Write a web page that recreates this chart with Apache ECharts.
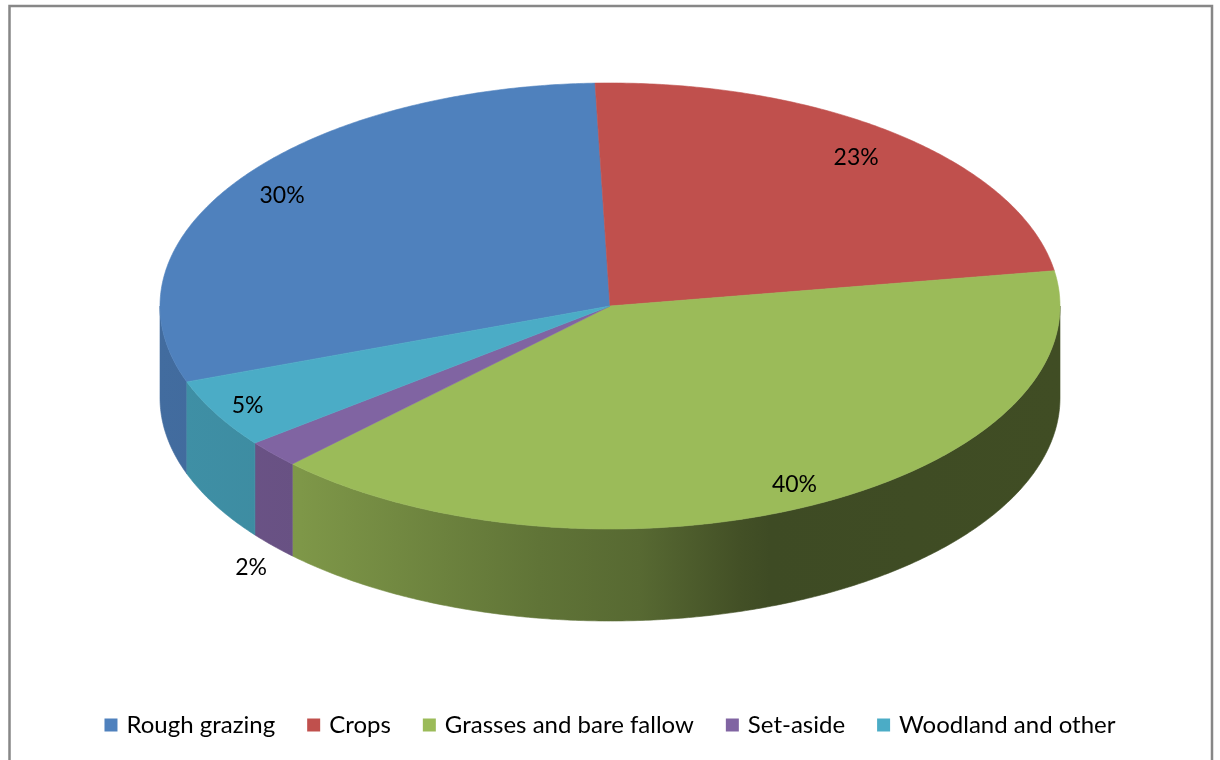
<!DOCTYPE html>
<html><head><meta charset="utf-8">
<script src="https://cdn.jsdelivr.net/npm/echarts@6/dist/echarts.min.js"></script>
<style>html,body{margin:0;padding:0;background:#fff}#c{width:1220px;height:760px}</style>
</head><body><div id="c"></div>
<script>
// ---- data ----
const categories = ['Rough grazing', 'Crops', 'Grasses and bare fallow', 'Set-aside', 'Woodland and other'];
const values = [30, 23, 40, 2, 5];

// ---- styling / layout ----
const colors = ['#4f81bd', '#c0504d', '#9bbb59', '#8064a2', '#4bacc6'];
const labelRadius = [0.88, 0.86, 0.90, 1.065, 0.92];
const labelOutside = [false, false, false, true, false];
const START = 250.1;          // first slice angle (deg clockwise from 12 o'clock)
const CX = 610, CY = 306, RX = 450, RY = 223, DEPTH = 92;
const FONT = 'Lato';

function shadeHex(hex, f) {
  const n = parseInt(hex.slice(1), 16);
  const r = Math.round(((n >> 16) & 255) * f), g = Math.round(((n >> 8) & 255) * f), b = Math.round((n & 255) * f);
  return 'rgb(' + r + ',' + g + ',' + b + ')';
}
const shadeStops = [[0, 0.84], [0.156, 0.81], [0.422, 0.62], [0.533, 0.56], [0.644, 0.43], [0.678, 0.40], [1, 0.41]];
function wallFill(hex) {
  return new echarts.graphic.LinearGradient(CX - RX, 0, CX + RX, 0,
    shadeStops.map(s => ({ offset: s[0], color: shadeHex(hex, s[1]) })), true);
}
function pt(deg, k, dy) {
  const r = deg * Math.PI / 180;
  return [CX + RX * k * Math.sin(r), CY - RY * k * Math.cos(r) + (dy || 0)];
}
function arc(a, b, dy) {
  const n = Math.max(2, Math.ceil((b - a) / 0.5));
  const out = [];
  for (let i = 0; i <= n; i++) out.push(pt(a + (b - a) * i / n, 1, dy));
  return out;
}

function makeRender(idx) {
  return function (params, api) {
    const total = values.reduce((s, v) => s + v, 0);
    let before = 0;
    for (let i = 0; i < idx; i++) before += values[i];
    const v = api.value(0);
    const a0 = START + before / total * 360;
    const a1 = a0 + v / total * 360;
    const col = colors[idx];
    const children = [];
    // visible outer wall (front half: 90..270 deg)
    [[90, 270], [450, 630]].forEach(function (rng) {
      const s = Math.max(a0, rng[0]), e = Math.min(a1, rng[1]);
      if (e > s) {
        const pts = arc(s, e, 0).concat(arc(s, e, DEPTH).reverse());
        children.push({ type: 'polygon', shape: { points: pts }, z2: 1,
          style: { fill: wallFill(col), stroke: wallFill(col), lineWidth: 0.6 } });
      }
    });
    // top face
    const top = [[CX, CY]].concat(arc(a0, a1, 0));
    children.push({ type: 'polygon', shape: { points: top }, z2: 5,
      style: { fill: col, stroke: col, lineWidth: 0.6 } });
    // label
    const mid = (a0 + a1) / 2;
    let lp = pt(mid, labelRadius[idx], 0);
    if (labelOutside[idx]) lp = [lp[0], lp[1] + DEPTH + 12];
    children.push({ type: 'text', x: lp[0], y: lp[1], z2: 20,
      style: { text: Math.round(v / total * 100) + '%', fill: '#000', font: '23px ' + FONT,
        align: 'center', verticalAlign: 'middle' } });
    return { type: 'group', children: children };
  };
}

const chart = echarts.init(document.getElementById('c'), null, { renderer: 'canvas' });
chart.setOption({
  animation: false,
  backgroundColor: '#fff',
  graphic: [{ type: 'rect', shape: { x: 9.5, y: 6, width: 1202.5, height: 800 },
    style: { fill: 'none', stroke: '#878787', lineWidth: 2.5 }, silent: true }],
  legend: {
    data: categories, top: 708, left: 'center', icon: 'rect',
    itemWidth: 13, itemHeight: 13, itemGap: 32,
    textStyle: { fontFamily: FONT, fontSize: 24, color: '#000', padding: [0, 0, 0, 4] }
  },
  series: categories.map(function (name, i) {
    return { type: 'custom', name: name, coordinateSystem: 'none', data: [values[i]],
      itemStyle: { color: colors[i] }, renderItem: makeRender(i), silent: true };
  })
});
</script></body></html>
